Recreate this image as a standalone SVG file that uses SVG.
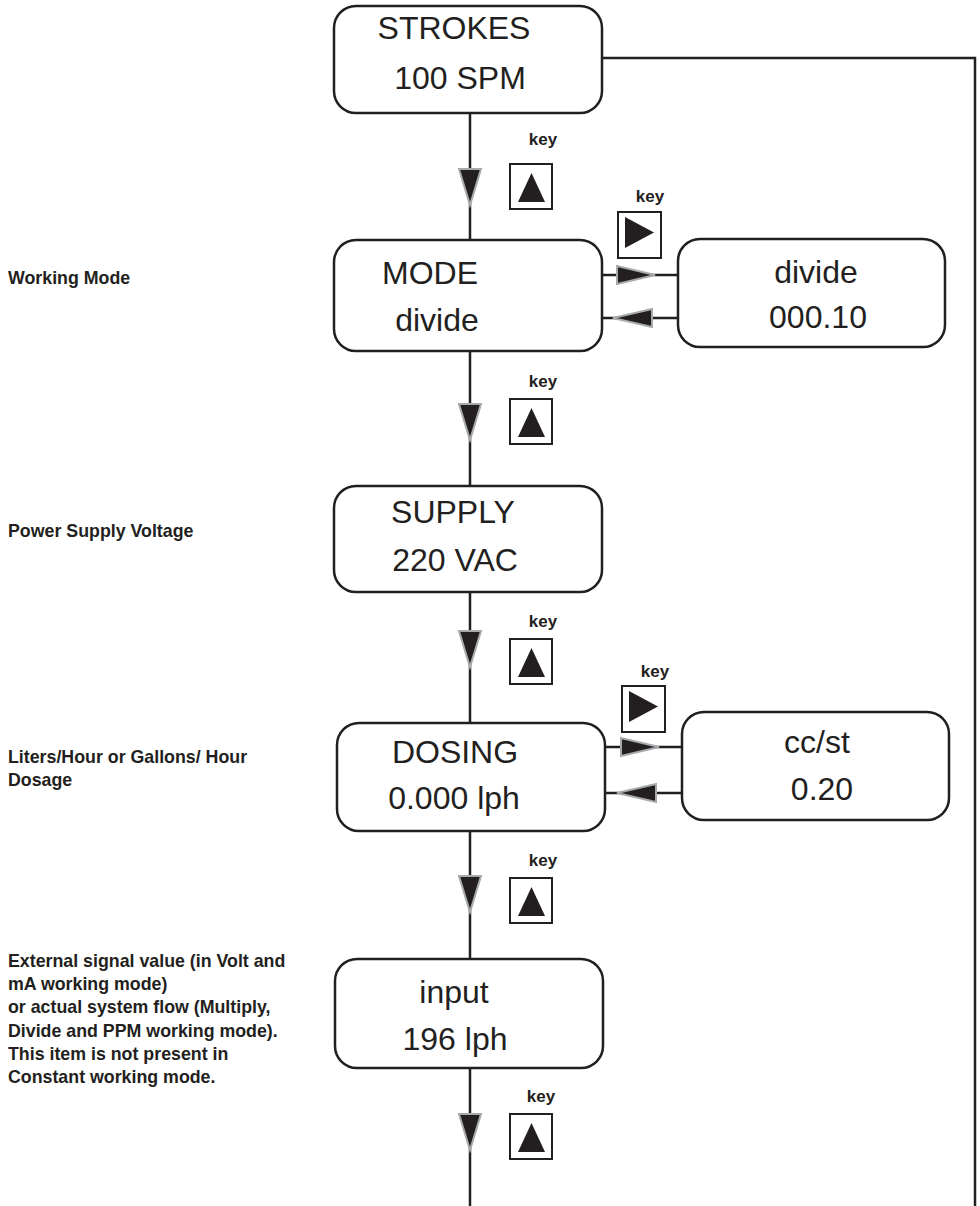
<svg xmlns="http://www.w3.org/2000/svg" width="980" height="1206" viewBox="0 0 980 1206">
<style>
.box{fill:#fff;stroke:#231f20;stroke-width:2.5}
.big{font-family:"Liberation Sans",Arial,sans-serif;font-size:32px;fill:#231f20;text-anchor:middle}
.lbl{font-family:"Liberation Sans",Arial,sans-serif;font-size:17.8px;font-weight:bold;fill:#231f20}
.key{font-family:"Liberation Sans",Arial,sans-serif;font-size:17px;font-weight:bold;fill:#231f20;text-anchor:middle}
.ln{fill:none;stroke:#231f20;stroke-width:2.5}
.arr{fill:#231f20;stroke:#a7a9ac;stroke-width:2;stroke-linejoin:miter}
.kb{fill:#fff;stroke:#231f20;stroke-width:2}
.kt{fill:#231f20}
</style>
<defs>
<g id="keyUp">
<rect class="kb" x="0" y="0" width="42" height="45"/>
<polygon class="kt" points="8,38 35,38 21.5,9"/>
</g>
<g id="keyRight">
<rect class="kb" x="0" y="0" width="43" height="46"/>
<polygon class="kt" points="7,5 7,36 36,20.5"/>
</g>
<polygon id="arrDown" class="arr" points="-11,0 11,0 0,36"/>
<polygon id="arrRight" class="arr" points="0,-9 0,9 38,0"/>
<polygon id="arrLeft" class="arr" points="0,-9 0,9 -39,0"/>
</defs>

<g id="connectors">
<polyline class="ln" points="602,58 975,58 975,1206"/>
<line class="ln" x1="470" y1="113" x2="470" y2="240"/>
<line class="ln" x1="470" y1="351" x2="470" y2="486"/>
<line class="ln" x1="470" y1="592" x2="470" y2="723"/>
<line class="ln" x1="470" y1="831" x2="470" y2="959"/>
<line class="ln" x1="470" y1="1068" x2="470" y2="1206"/>
<line class="ln" x1="602" y1="275" x2="678" y2="275"/>
<line class="ln" x1="602" y1="318" x2="678" y2="318"/>
<line class="ln" x1="605" y1="747" x2="682" y2="747"/>
<line class="ln" x1="605" y1="793" x2="682" y2="793"/>
<use href="#arrDown" x="470" y="169"/>
<use href="#arrDown" x="470" y="404"/>
<use href="#arrDown" x="470" y="631"/>
<use href="#arrDown" x="470" y="876"/>
<use href="#arrDown" x="470" y="1114"/>
<use href="#arrRight" x="617" y="275"/>
<use href="#arrLeft" x="652" y="318"/>
<use href="#arrRight" x="621" y="747"/>
<use href="#arrLeft" x="656" y="793"/>
</g>

<g id="keys">
<text class="key" x="543" y="145">key</text>
<use href="#keyUp" x="510" y="164"/>
<text class="key" x="543" y="387">key</text>
<use href="#keyUp" x="510" y="399"/>
<text class="key" x="543" y="627">key</text>
<use href="#keyUp" x="510" y="639"/>
<text class="key" x="543" y="866">key</text>
<use href="#keyUp" x="510" y="878"/>
<text class="key" x="541" y="1102">key</text>
<use href="#keyUp" x="510" y="1114"/>
<text class="key" x="650" y="202">key</text>
<use href="#keyRight" x="618" y="212"/>
<text class="key" x="655" y="677">key</text>
<use href="#keyRight" x="622" y="686"/>
</g>

<g id="node-strokes">
<rect class="box" x="334" y="6" width="268" height="107" rx="22"/>
<text class="big" x="454" y="39">STROKES</text>
<text class="big" x="460" y="89">100 SPM</text>
</g>
<g id="node-mode">
<rect class="box" x="334" y="240" width="268" height="111" rx="22"/>
<text class="big" x="430" y="284">MODE</text>
<text class="big" x="437" y="331">divide</text>
</g>
<g id="node-divide">
<rect class="box" x="678" y="239" width="267" height="108" rx="22"/>
<text class="big" x="816" y="283">divide</text>
<text class="big" x="818" y="328">000.10</text>
</g>
<g id="node-supply">
<rect class="box" x="334" y="486" width="268" height="106" rx="22"/>
<text class="big" x="453" y="523">SUPPLY</text>
<text class="big" x="455" y="571">220 VAC</text>
</g>
<g id="node-dosing">
<rect class="box" x="337" y="723" width="268" height="108" rx="22"/>
<text class="big" x="455" y="763">DOSING</text>
<text class="big" x="454" y="809">0.000 lph</text>
</g>
<g id="node-ccst">
<rect class="box" x="682" y="712" width="267" height="108" rx="22"/>
<text class="big" x="817" y="753">cc/st</text>
<text class="big" x="822" y="800">0.20</text>
</g>
<g id="node-input">
<rect class="box" x="335" y="959" width="268" height="109" rx="22"/>
<text class="big" x="454" y="1003">input</text>
<text class="big" x="455" y="1050">196 lph</text>
</g>

<g id="labels">
<text class="lbl" x="8" y="284">Working Mode</text>
<text class="lbl" x="8" y="537">Power Supply Voltage</text>
<text class="lbl" x="8" y="763">Liters/Hour or Gallons/ Hour</text>
<text class="lbl" x="8" y="786">Dosage</text>
<text class="lbl" x="8" y="967">External signal value (in Volt and</text>
<text class="lbl" x="8" y="990">mA working mode)</text>
<text class="lbl" x="8" y="1013">or actual system flow (Multiply,</text>
<text class="lbl" x="8" y="1037">Divide and PPM working mode).</text>
<text class="lbl" x="8" y="1060">This item is not present in</text>
<text class="lbl" x="8" y="1083">Constant working mode.</text>
</g>
</svg>
